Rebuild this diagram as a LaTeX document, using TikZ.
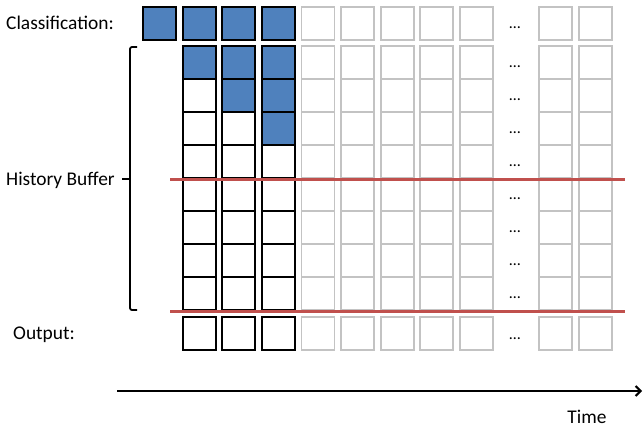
\documentclass[tikz,border=0pt]{standalone}
\usepackage{fontspec}
\setmainfont{Carlito}
\usetikzlibrary{arrows.meta}
\definecolor{boxblue}{HTML}{4F81BD}
\definecolor{linered}{HTML}{C0504D}
\definecolor{boxgray}{HTML}{C3C3C3}
\tikzset{
  cell/.style={rectangle, minimum width=33pt, minimum height=33pt, inner sep=0pt, outer sep=0pt, line width=1.8pt},
  blackcell/.style={cell, draw=black},
  graycell/.style={cell, draw=boxgray},
  bluecell/.style={blackcell, fill=boxblue},
  lbl/.style={font=\fontsize{19.4}{23}\selectfont, inner sep=0pt, anchor=west},
  dotsl/.style={font=\fontsize{16}{18}\selectfont, inner sep=0pt, anchor=base},
  redline/.style={draw=linered, line width=3pt},
}
\begin{document}
\begin{tikzpicture}[x=1pt,y=-1pt]
\useasboundingbox (0,0) rectangle (643,428);
% gray cells
\foreach \k in {4,5,6,7,8,10,11} {
  \pgfmathsetmacro{\xc}{143+39.6*\k+16.5}
  \node[graycell] (c\k) at (\xc,23.5) {};
  \foreach \r in {0,...,7} {
    \pgfmathsetmacro{\yc}{46+33*\r+16.5}
    \node[graycell] (h\r-\k) at (\xc,\yc) {};
  }
  \node[graycell] (o\k) at (\xc,333.5) {};
}
% black history and output cells
\foreach \k in {1,2,3} {
  \pgfmathsetmacro{\xc}{143+39.6*\k+16.5}
  \foreach \r in {0,...,7} {
    \pgfmathsetmacro{\yc}{46+33*\r+16.5}
    \node[blackcell] (h\r-\k) at (\xc,\yc) {};
  }
  \node[blackcell] (o\k) at (\xc,333.5) {};
}
% classification row
\foreach \k in {0,1,2,3} {
  \pgfmathsetmacro{\xc}{143+39.6*\k+16.5}
  \node[bluecell] (c\k) at (\xc,23.5) {};
}
% blue history cells
\node[bluecell] at (h0-1) {};
\node[bluecell] at (h0-2) {};
\node[bluecell] at (h0-3) {};
\node[bluecell] at (h1-2) {};
\node[bluecell] at (h1-3) {};
\node[bluecell] at (h2-3) {};
% dots
\node[dotsl] (d0) at (515,29) {…};
\foreach \r in {0,...,7} {
  \pgfmathsetmacro{\yb}{46+33*\r+21.5}
  \node[dotsl] (dh\r) at (515,\yb) {…};
}
\node[dotsl] (do) at (515,339) {…};
% red lines
\coordinate (r1a) at (170,179);
\coordinate (r1b) at (625,179);
\coordinate (r2a) at (170,311);
\coordinate (r2b) at (625,311);
\draw[redline] (r1a) -- (r1b);
\draw[redline] (r2a) -- (r2b);
% bracket
\coordinate (bt) at (137,47);
\coordinate (bb) at (137,310);
\coordinate (bm) at (122,179);
\draw[line width=1.8pt, rounded corners=2pt] (bt) -- (130,47) -- (130,310) -- (bb);
\draw[line width=1.8pt] (130,179) -- (bm);
% labels
\node[lbl] (lc) at (6,23) {Classification:};
\node[lbl] (lh) at (6,180) {History Buffer};
\node[lbl] (lo) at (13,335) {Output:};
% time axis
\coordinate (ta) at (117,391);
\coordinate (tb) at (642,391);
\draw[line width=2pt, -{Straight Barb[length=5pt,width=10pt]}] (ta) -- (tb);
\node[font=\fontsize{19.4}{23}\selectfont, inner sep=0pt] (time) at (587,417) {Time};
\end{tikzpicture}
\end{document}
